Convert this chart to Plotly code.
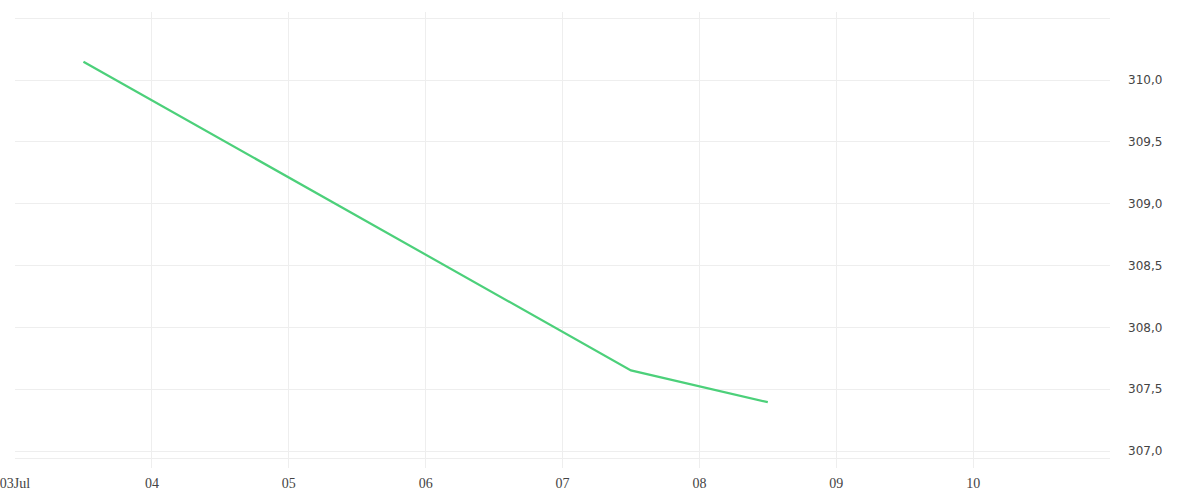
import plotly.graph_objects as go

# Price readings (daily, noon)
dates = ["2023-07-03 12:00", "2023-07-07 12:00", "2023-07-08 12:00"]
prices = [310.148, 307.652, 307.395]

# Axis ticks
day_ticks = ["2023-07-%02d" % d for d in range(3, 11)]
day_labels = ["03Jul", "04", "05", "06", "07", "08", "09", "10"]
price_ticks = [307.0, 307.5, 308.0, 308.5, 309.0, 309.5, 310.0]

grid = "#eeeeee"

fig = go.Figure()
fig.add_trace(go.Scatter(x=dates, y=prices, mode="lines",
                         line=dict(color="#4cd07a", width=2.2),
                         hoverinfo="x+y", showlegend=False))

fig.update_layout(
    width=1200, height=500,
    margin=dict(l=15, r=90, t=12, b=32),
    plot_bgcolor="white", paper_bgcolor="white",
    separators=",.",
    showlegend=False,
)

fig.update_xaxes(
    type="date",
    range=["2023-07-03", "2023-07-11"],
    tickvals=day_ticks, ticktext=day_labels,
    showgrid=True, gridcolor=grid, gridwidth=1,
    minor=dict(tickvals=["2023-07-11"], showgrid=True, gridcolor=grid),
    zeroline=False, showline=False, ticks="",
    automargin=False, ticklabeloverflow="allow",
    ticklabelstandoff=5,
    tickfont=dict(family="Liberation Serif", size=14, color="#444"),
)

fig.update_yaxes(
    side="right",
    range=[306.8625, 310.55],
    tickvals=price_ticks, tickformat=".1f",
    showgrid=True, gridcolor=grid, gridwidth=1,
    minor=dict(tickvals=[310.5, 306.9434], showgrid=True, gridcolor=grid),
    zeroline=False, showline=False, ticks="",
    automargin=False,
    ticklabelstandoff=17,
    tickfont=dict(family="DejaVu Sans", size=12, color="#444"),
)

# drop the default page margin so the chart sits flush with the window
fig.write_html("out.html", config={"displayModeBar": False},
               post_script="document.body.style.margin='0';")
